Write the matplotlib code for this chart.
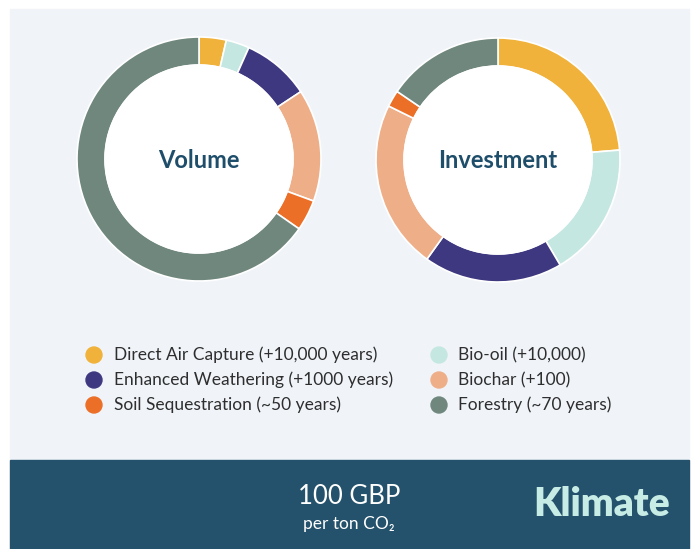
import matplotlib
matplotlib.use("Agg")
import matplotlib.pyplot as plt
from matplotlib.patches import Rectangle, Circle

plt.rcParams['font.family'] = ['Lato', 'DejaVu Sans']

# categories and colours
labels = ['Direct Air Capture (+10,000 years)', 'Bio-oil (+10,000)',
          'Enhanced Weathering (+1000 years)', 'Biochar (+100)',
          'Soil Sequestration (~50 years)', 'Forestry (~70 years)']
colors = ['#f0b23a', '#c5e7e1', '#3e3880', '#eeae88', '#ec6f28', '#6f877c']

volume = [3.6, 3.1, 9.0, 14.9, 4.1, 65.3]
investment = [23.7, 17.8, 18.4, 22.4, 2.2, 15.5]

W, H = 695, 549
fig = plt.figure(figsize=(W / 100, H / 100), dpi=100)
ax = fig.add_axes([0, 0, 1, 1])


def y(v):
    # pixel row (top down) -> axes y (bottom up)
    return H - v


# panel and bottom band
ax.add_patch(Rectangle((10, y(460)), 679, 451, color='#f0f4f9', zorder=0))
ax.add_patch(Rectangle((10, 0), 679, y(460), color='#24516b', zorder=0))

# donuts
R = 122
for vals, cx, cy, title in [(volume, 199, 159, 'Volume'),
                             (investment, 498, 160, 'Investment')]:
    ax.pie(vals, colors=colors, startangle=90, counterclock=False,
           center=(cx, y(cy)), radius=R, frame=True,
           wedgeprops=dict(width=28, edgecolor='white', linewidth=1.2))
    ax.add_patch(Circle((cx, y(cy)), R - 28, color='white', zorder=1))
    ax.text(cx, y(cy + 1), title, ha='center', va='center', fontsize=17,
            fontweight='bold', color='#1f4e6b', zorder=3)

# legend, two columns
order = [[0, 2, 4], [1, 3, 5]]
for col, (mx, tx) in enumerate([(94, 114), (439, 458)]):
    for row, i in enumerate(order[col]):
        yy = y(355 + row * 25)
        ax.add_patch(Circle((mx, yy), 8, color=colors[i], zorder=2))
        ax.text(tx, yy, labels[i], ha='left', va='center', fontsize=12.5,
                color='#2e2e2e')

# footer
ax.text(349, y(497), '100 GBP', ha='center', va='center', fontsize=18.5,
        color='white')
ax.text(349, y(524), 'per ton CO₂', ha='center', va='center', fontsize=12.5,
        color='white')
ax.text(602, y(504), 'Klimate', ha='center', va='center', fontsize=28,
        fontweight='heavy', color='#c7ece5')

ax.set_xlim(0, W)
ax.set_ylim(0, H)
ax.set_aspect('auto')
ax.axis('off')
fig.savefig('out.png', dpi=100, facecolor='white')
